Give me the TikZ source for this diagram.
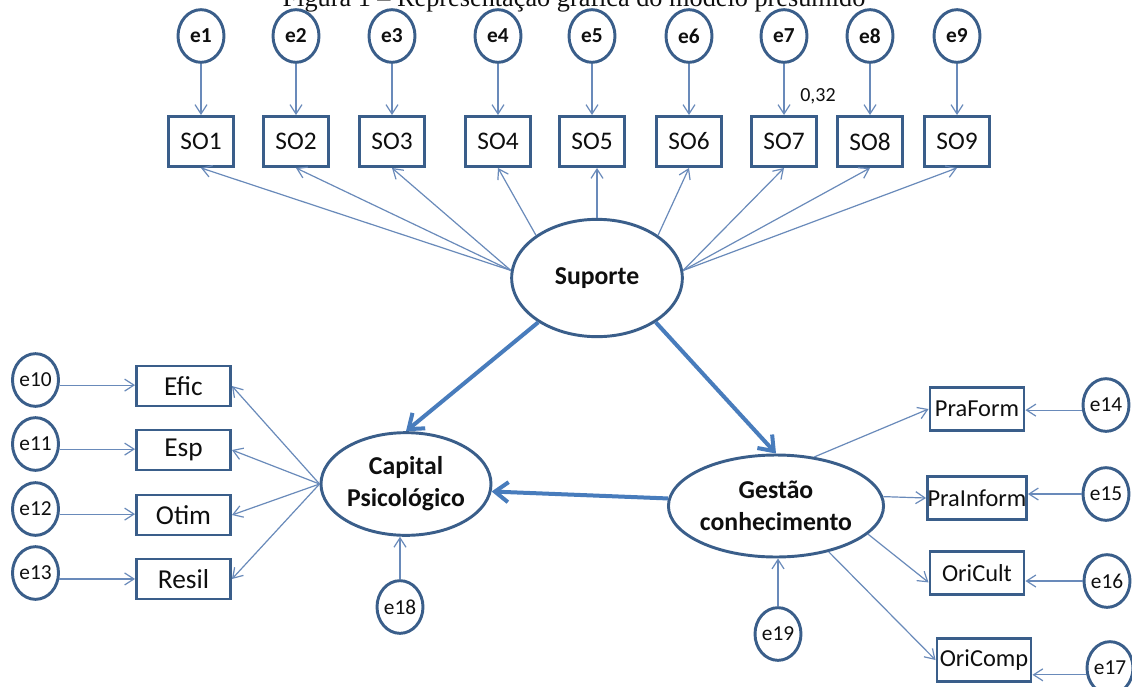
\documentclass[tikz,border=0pt]{standalone}
\usepackage{fontspec}
\setmainfont{Carlito}
\newfontfamily\titlefont{Liberation Serif}
\usetikzlibrary{arrows.meta,shapes.geometric}
\definecolor{outline}{RGB}{58,94,138}
\definecolor{thinline}{RGB}{105,138,186}
\definecolor{thickline}{RGB}{72,124,188}
\definecolor{ink}{RGB}{15,15,15}
\begin{document}
\begin{tikzpicture}[x=0.75pt,y=-0.75pt,
  every node/.style={text=ink},
  err/.style={ellipse,draw=outline,line width=2.2pt,fill=white,
    minimum width=34.5pt,minimum height=39.5pt,inner sep=0pt,
    font=\fontsize{16}{18}\selectfont},
  errb/.style={err,font=\fontsize{16}{18}\selectfont\bfseries},
  sobox/.style={rectangle,draw=outline,line width=2.2pt,fill=white,
    minimum width=48.5pt,minimum height=37.5pt,inner sep=0pt,
    font=\fontsize{19}{22}\selectfont},
  capbox/.style={rectangle,draw=outline,line width=2.2pt,fill=white,
    minimum width=70.5pt,minimum height=30pt,inner sep=0pt,
    font=\fontsize{20.5}{23}\selectfont},
  gesbox/.style={rectangle,draw=outline,line width=2.2pt,fill=white,
    minimum width=70.5pt,minimum height=32pt,inner sep=0pt,
    font=\fontsize{18.3}{21}\selectfont},
  latent/.style={ellipse,draw=outline,line width=2.2pt,fill=white,
    inner sep=0pt,align=center,
    font=\fontsize{19.3}{24}\selectfont\bfseries},
  thin/.style={draw=thinline,line width=0.9pt,
    -{Straight Barb[length=7pt,width=9pt]}},
  thick/.style={draw=thickline,line width=3pt,
    -{Straight Barb[length=10pt,width=15pt]}}
]
\clip (0,0) rectangle (1132,686);
\fill[white] (0,0) rectangle (1132,686);

% caption
\node[anchor=base,font=\titlefont\fontsize{19.7}{22}\selectfont] (title) at (574,6.5)
  {Figura 1 – Representação gráfica do modelo presumido};

% support construct and its indicators
\node[latent,minimum width=128pt,minimum height=88pt] (Sup) at (597,278) {Suporte};
\foreach \i/\x in {1/201,2/296,3/392,4/498,5/592,6/689,7/784,8/870,9/957}{
  \node[errb] (e\i) at (\x,36) {e\i};
  \node[sobox] (SO\i) at (\x,141.5) {SO\i};
  \draw[thin] (e\i) -- (SO\i);
}
\node[font=\fontsize{15}{17}\selectfont] (w32) at (818,96) {0,32};

% psychological capital
\node[latent,minimum width=127.5pt,minimum height=77pt] (Cap) at (406,484) {Capital\\Psicológico};
\foreach \n/\t/\y/\a in {10/Efic/386/-12,11/Esp/450/-12,12/Otim/515/-12,13/Resil/579/-14}{
  \node[err] (e\n) at (35.5,\y-6) {e\n};
  \node[capbox] (B\n) at (183.5,\y) {\t};
  \draw[thin] (e\n.\a) -- (e\n.\a -| B\n.west);
  \draw[thin] (Cap.west) -- (B\n.east);
}
\node[err] (e18) at (400,607) {e18};
\draw[thin] (e18) -- (e18 |- Cap.south);

% knowledge management
\node[latent,minimum width=129pt,minimum height=76.5pt] (Ges) at (776,506) {Gestão\\conhecimento};
\node[gesbox] (PraForm) at (977,409) {PraForm};
\node[gesbox] (PraInform) at (977,498) {PraInform};
\node[gesbox] (OriCult) at (977,573) {OriCult};
\node[gesbox] (OriComp) at (984,660) {OriComp};
\node[err] (e14) at (1106,405) {e14};
\node[err] (e15) at (1106,494) {e15};
\node[err] (e16) at (1107,581) {e16};
\node[err] (e17) at (1110,668) {e17};
\node[err] (e19) at (778,634) {e19};

\draw[thin] (Ges.52) -- (PraForm.west);
\draw[thin] (Ges.5) -- (PraInform.west);
\draw[thin] (Ges.-17) -- (OriCult.191);
\draw[thin] (Ges.-41) -- (OriComp.west);
\draw[thin] (e14.192) -- (e14.192 -| PraForm.east);
\draw[thin] (e15.west) -- (e15.west -| PraInform.east);
\draw[thin] (e16.west) -- (e16.west -| OriCult.east);
\draw[thin] (e17.196) -- (e17.196 -| OriComp.east);
\draw[thin] (e19) -- (e19 |- Ges.south);

% support loadings
\foreach \i in {1,2,3}{\draw[thin] (Sup.175) -- (SO\i.south);}
\draw[thin] (Sup.145) -- (SO4.south);
\draw[thin] (Sup.north) -- (Sup.north |- SO5.south);
\draw[thin] (Sup.35) -- (SO6.south);
\foreach \i in {7,8,9}{\draw[thin] (Sup.5) -- (SO\i.south);}

% structural paths
\draw[thick] (Sup.217) -- (Cap.north);
\draw[thick] (Sup.-37) -- (Ges.north);
\draw[thick] (Ges.176) -- (Cap.-5);
\end{tikzpicture}
\end{document}
